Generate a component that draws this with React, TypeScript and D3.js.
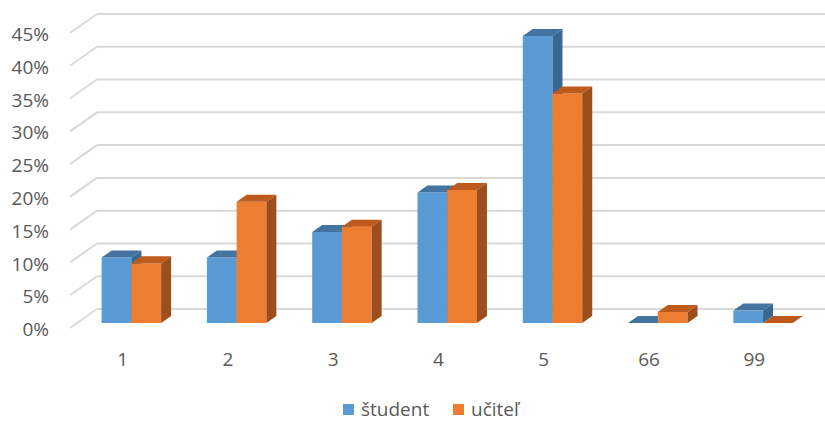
import React from "react";
import * as d3 from "d3";

const categories = ["1", "2", "3", "4", "5", "66", "99"];
const seriesNames = ["študent", "učiteľ"];
const studentValues = [10, 10, 13.9, 19.9, 43.8, 0, 1.9];
const ucitelValues = [9.1, 18.5, 14.7, 20.3, 35.0, 1.7, 0];
const yTicks = [0, 5, 10, 15, 20, 25, 30, 35, 40, 45];

const palette = [
  { front: "#5B9BD5", top: "#44739F", side: "#3B6891" },
  { front: "#ED7D31", top: "#BE5A1C", side: "#9C4F1D" },
];

export default function App() {
  const W = 825, H = 422;
  const frontLeft = 70; // x of floor-left at front
  const frontBase = 328; // y of 0% at front
  const depthDx = 27, depthDy = -19;
  const plotW = 737;
  const y = d3.scaleLinear().domain([0, 45]).range([0, 295]);
  const x = d3.scaleBand().domain(categories).range([0, plotW]).padding(0);
  const groupW = x.bandwidth() * 0.565;
  const inner = d3.scaleBand().domain(seriesNames).range([0, groupW]).padding(0);
  const zFront = 0.26, zBack = 0.63;
  const barShift = 1.7;

  const proj = (xl: number, v: number, z: number): [number, number] => [
    frontLeft + xl + z * depthDx,
    frontBase + z * depthDy - y(v),
  ];
  const poly = (pts: [number, number][]) => pts.map((p) => p.join(",")).join(" ");

  const font = "'Open Sans', sans-serif";
  const txt = "#595959";
  const grid = "#D9D9D9";

  const data = [studentValues, ucitelValues];

  return (
    <svg width={W} height={H} style={{ position: "absolute", left: 0, top: 0 }}>
      <rect width={W} height={H} fill="#fff" />
      {yTicks.map((t) => {
        const [bx, by] = proj(0, t, 1);
        const [fx, fy] = proj(0, t, 0);
        return (
          <g key={t}>
            <line x1={bx} y1={by} x2={W} y2={by} stroke={grid} strokeWidth={2} />
            <line x1={fx} y1={fy} x2={bx} y2={by} stroke={grid} strokeWidth={2} />
            <text x={49} y={fy + 3} textAnchor="end" dominantBaseline="middle" fontFamily={font} fontSize={19} fill={txt}>
              {t}%
            </text>
          </g>
        );
      })}
      {categories.map((c, i) => {
        const gx = (x(c) as number) + (x.bandwidth() - groupW) / 2 + barShift;
        return (
          <g key={c}>
            {seriesNames.map((s, si) => {
              const v = data[si][i];
              const x0 = gx + (inner(s) as number);
              const x1 = x0 + inner.bandwidth();
              const col = palette[si];
              const front = poly([proj(x0, 0, zFront), proj(x1, 0, zFront), proj(x1, v, zFront), proj(x0, v, zFront)]);
              const top = poly([proj(x0, v, zFront), proj(x1, v, zFront), proj(x1, v, zBack), proj(x0, v, zBack)]);
              const side = poly([proj(x1, 0, zFront), proj(x1, 0, zBack), proj(x1, v, zBack), proj(x1, v, zFront)]);
              return (
                <g key={s}>
                  {v > 0 && <polygon points={front} fill={col.front} />}
                  <polygon points={top} fill={col.top} />
                  {v > 0 && <polygon points={side} fill={col.side} />}
                </g>
              );
            })}
            <text
              x={frontLeft + (x(c) as number) + x.bandwidth() / 2}
              y={361}
              textAnchor="middle"
              dominantBaseline="middle"
              fontFamily={font}
              fontSize={19}
              fill={txt}
            >
              {c}
            </text>
          </g>
        );
      })}
      <g fontFamily={font} fontSize={19} fill={txt}>
        <rect x={343} y={404} width={11} height={11} fill={palette[0].front} />
        <text x={361} y={411} dominantBaseline="middle">{seriesNames[0]}</text>
        <rect x={453} y={404} width={11} height={11} fill={palette[1].front} />
        <text x={471} y={411} dominantBaseline="middle">{seriesNames[1]}</text>
      </g>
    </svg>
  );
}
